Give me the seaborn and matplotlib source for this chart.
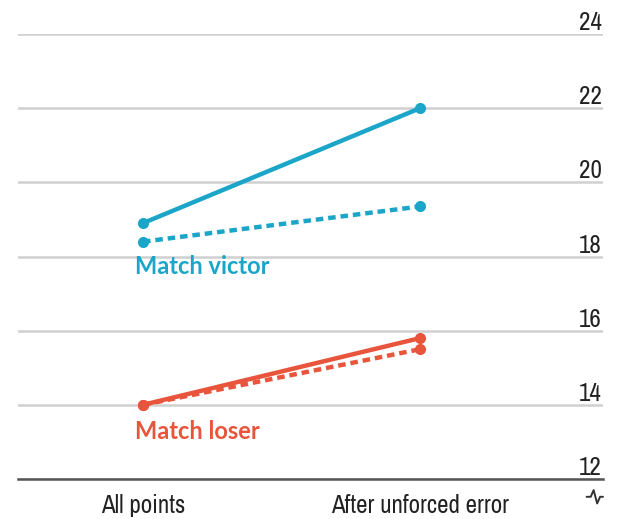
import pandas as pd
import matplotlib.pyplot as plt
import seaborn as sns
from matplotlib import font_manager

# values
stages = ['All points', 'After unforced error']
victor_solid = [18.9, 22.0]
victor_dashed = [18.4, 19.35]
loser_solid = [14.0, 15.8]
loser_dashed = [14.0, 15.5]
yticks = [12, 14, 16, 18, 20, 22, 24]

teal = '#1ba6c9'
red = '#e8553c'

rows = []
for grp, kind, vals in [('Match victor', 'solid', victor_solid),
                        ('Match victor', 'dashed', victor_dashed),
                        ('Match loser', 'solid', loser_solid),
                        ('Match loser', 'dashed', loser_dashed)]:
    for s, v in zip(stages, vals):
        rows.append({'stage': s, 'value': v, 'group': grp, 'kind': kind})
df = pd.DataFrame(rows)

# pick a narrow family if one is installed
names = sorted({f.name for f in font_manager.fontManager.ttflist})
narrow = [n for n in names if 'Narrow' in n or 'Condensed' in n]
axis_font = narrow[0] if narrow else 'Roboto'

sns.set_style('white')
plt.rcParams['font.family'] = [axis_font, 'DejaVu Sans']

fig = plt.figure(figsize=(6.2, 5.19), dpi=100)
ax = fig.add_axes([18 / 620, 1 - 479 / 519, (603 - 18) / 620, (479 - 34) / 519])

ax.set_ylim(12, 24)
ax.set_yticks(yticks)
ax.grid(axis='y', color='#d0d0d0', linewidth=1.8)
ax.set_axisbelow(True)

sns.lineplot(data=df, x='stage', y='value', hue='group', style='kind',
             palette={'Match victor': teal, 'Match loser': red},
             dashes={'solid': '', 'dashed': (1.7, 1.1)},
             markers={'solid': 'o', 'dashed': 'o'}, markersize=8,
             markeredgewidth=0, linewidth=3.2, legend=False, ax=ax)

ax.set_xlim(-0.451, 1.66)
ax.set_xlabel('')
ax.set_ylabel('')

for sp in ['left', 'right', 'top']:
    ax.spines[sp].set_visible(False)
ax.spines['bottom'].set_color('#555555')
ax.spines['bottom'].set_linewidth(1.8)

ax.yaxis.tick_right()
ax.tick_params(axis='y', length=0, pad=-1, labelsize=18, labelcolor='#222222')
for lab in ax.get_yticklabels():
    lab.set_horizontalalignment('right')
    lab.set_verticalalignment('bottom')
ax.tick_params(axis='x', length=0, pad=11, labelsize=18, labelcolor='#222222')

ax.text(-0.03, 18.05, 'Match victor', color=teal, fontsize=17, fontweight='bold',
        va='top', ha='left', family=['Lato', 'DejaVu Sans'])
ax.text(-0.03, 13.6, 'Match loser', color=red, fontsize=17, fontweight='bold',
        va='top', ha='left', family=['Lato', 'DejaVu Sans'])

# axis break mark
ax.plot([0.972, 0.979, 0.984, 0.99, 0.995, 1.0],
        [-0.04, -0.04, -0.025, -0.055, -0.04, -0.04],
        transform=ax.transAxes, color='#333333', linewidth=1.4, clip_on=False)

fig.savefig('out.png', dpi=100)
